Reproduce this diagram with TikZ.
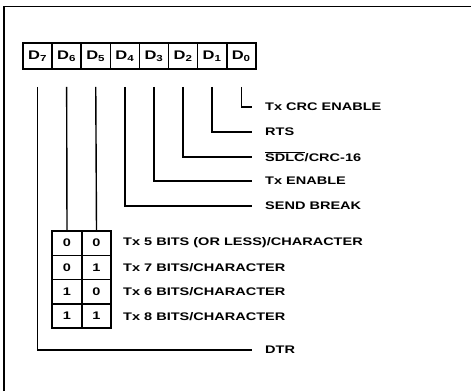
\documentclass[tikz,border=0pt]{standalone}
\usepackage{fontspec}
\setmainfont{Liberation Sans}[FakeStretch=1.32]
\begin{document}
\begin{tikzpicture}[x=1pt,y=-1pt,
  lbl/.style={anchor=west,inner sep=0pt,font=\fontsize{11}{12}\selectfont\bfseries},
  cell/.style={draw,line width=1.6pt,minimum width=29.1pt,minimum height=26pt,inner sep=0pt,font=\fontsize{12.5}{13}\selectfont\bfseries},
  tcell/.style={draw,line width=1.6pt,minimum width=29.5pt,minimum height=24.3pt,inner sep=0pt,font=\fontsize{11}{12}\selectfont\bfseries},
  conn/.style={line width=1.4pt}]
\useasboundingbox (0,0) rectangle (471,391);
% frame (top and left edges only)
\draw[line width=1.3pt] (4,391) -- (4,6.5) -- (471,6.5);
% register cells
\foreach \i/\n in {0/7,1/6,2/5,3/4,4/3,5/2,6/1,7/0}{
  \node[cell] (d\n) at ({23+14.55+29.1*\i},56) {D\textsubscript{\n}};
}
% labels
\node[lbl] (l0) at (265,107) {Tx CRC ENABLE};
\node[lbl] (l1) at (265,132) {RTS};
\node[lbl] (l2) at (265,157) {$\overline{\mbox{SDLC}}$/CRC-16};
\node[lbl] (l3) at (265,181) {Tx ENABLE};
\node[lbl] (l4) at (265,206) {SEND BREAK};
\node[lbl] (l7) at (265,350) {DTR};
% connector ends
\foreach \k in {0,1,2,3,4,7}{\coordinate (e\k) at ([xshift=-13pt]l\k.west);}
% table
\foreach \r/\a/\b in {0/0/0,1/0/1,2/1/0,3/1/1}{
  \node[tcell] (t\r a) at (67,{243.15+24.3*\r}) {\a};
  \node[tcell] (t\r b) at (96.5,{243.15+24.3*\r}) {\b};
}
\node[lbl] (r0) at (123,243) {Tx 5 BITS (OR LESS)/CHARACTER};
\node[lbl] (r1) at (123,268) {Tx 7 BITS/CHARACTER};
\node[lbl] (r2) at (123,292) {Tx 6 BITS/CHARACTER};
\node[lbl] (r3) at (123,317) {Tx 8 BITS/CHARACTER};
% connectors
\foreach \n/\k in {0/0,1/1,2/2,3/3,4/4,7/7}{
  \draw[conn] ([yshift=-17pt]d\n.south) |- (e\k);
}
\draw[conn] ([yshift=-17pt]d6.south) -- (t0a.north);
\draw[conn] ([yshift=-17pt]d5.south) -- (t0b.north);
\end{tikzpicture}
\end{document}
